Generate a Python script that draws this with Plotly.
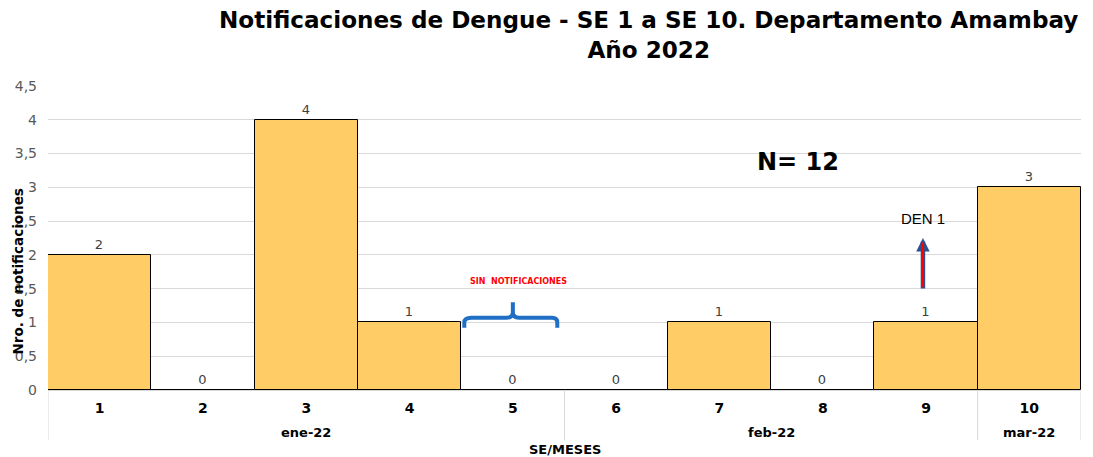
import plotly.graph_objects as go
import numpy as np

weeks = [1, 2, 3, 4, 5, 6, 7, 8, 9, 10]
values = [2, 0, 4, 1, 0, 0, 1, 0, 1, 3]
months = ["ene-22"] * 5 + ["feb-22"] * 4 + ["mar-22"]
y_ticks = [0, 0.5, 1, 1.5, 2, 2.5, 3, 3.5, 4, 4.5]

title_line1 = "Notificaciones de Dengue - SE 1 a SE 10. Departamento Amambay"
title_line2 = "Año 2022"
total_label = "N= " + str(sum(values))

FONT = "DejaVu Sans"
GRID = "#d9d9d9"

fig = go.Figure()
fig.add_trace(go.Bar(
    x=weeks, y=values, width=1.0,
    marker=dict(color="#FFCC66", line=dict(color="#000000", width=1)),
    text=[str(v) for v in values], textposition="outside",
    textfont=dict(family=FONT, size=13, color="#404040"),
    cliponaxis=False,
))

# month groups
month_names = []
for m in months:
    if m not in month_names:
        month_names.append(m)
annotations = []
shapes = []
for m in month_names:
    ws = [w for w, mm in zip(weeks, months) if mm == m]
    annotations.append(dict(x=float(np.mean(ws)), y=-0.1414, xref="x", yref="paper", yanchor="middle",
                            text="<b>" + m + "</b>", showarrow=False,
                            font=dict(family=FONT, size=13, color="#000000")))
    shapes.append(dict(type="line", xref="x", yref="paper", x0=min(ws) - 0.5, x1=min(ws) - 0.5,
                       y0=0, y1=-0.165, line=dict(color=GRID, width=1)))
shapes.append(dict(type="line", xref="x", yref="paper", x0=max(weeks) + 0.5, x1=max(weeks) + 0.5,
                   y0=0, y1=-0.165, line=dict(color=GRID, width=1)))

# brace over SE 5 (sin notificaciones)
bx = 5
brace_path = (f"M {bx-0.47},0.92 L {bx-0.47},1.0 Q {bx-0.47},1.07 {bx-0.4},1.07 "
              f"L {bx-0.06},1.07 Q {bx},1.07 {bx},1.15 L {bx},1.3 "
              f"M {bx},1.15 Q {bx},1.07 {bx+0.06},1.07 L {bx+0.38},1.07 "
              f"Q {bx+0.43},1.07 {bx+0.43},1.0 L {bx+0.43},0.92")
shapes.append(dict(type="path", xref="x", yref="y", path=brace_path,
                   line=dict(color="#1F6FC5", width=4)))

annotations += [
    dict(x=0.581, y=1.0, xref="paper", yref="paper", yanchor="middle", yshift=51.5, align="center",
         text="<b>" + title_line1 + "<br>" + title_line2 + "</b>", showarrow=False,
         font=dict(family=FONT, size=23.1, color="#000000")),
    dict(x=7.765, y=3.375, xref="x", yref="y", text="<b>" + total_label + "</b>", showarrow=False,
         font=dict(family=FONT, size=24, color="#000000")),
    dict(x=5.05, y=1.6, xref="x", yref="y", text="<b>SIN  NOTIFICACIONES</b>", showarrow=False,
         font=dict(family=FONT, size=8, color="#FF0000")),
    dict(x=8.97, y=2.54, xref="x", yref="y", text="DEN 1", showarrow=False,
         font=dict(family="Liberation Sans", size=15, color="#000000")),
    # arrow outline
    dict(x=8.97, y=2.25, ax=8.97, ay=1.48, xref="x", yref="y", axref="x", ayref="y",
         text="", showarrow=True, arrowhead=2, arrowsize=0.6, arrowwidth=4.5, arrowcolor="#2F4F8F"),
    dict(x=8.97, y=2.18, ax=8.97, ay=1.5, xref="x", yref="y", axref="x", ayref="y",
         text="", showarrow=True, arrowhead=0, arrowwidth=2.2, arrowcolor="#FF0000"),
    dict(x=-0.029, y=0.39, xref="paper", yref="paper", xanchor="center", yanchor="middle",
         text="<b>Nro. de notificaciones</b>",
         textangle=-90, showarrow=False, font=dict(family=FONT, size=13.5, color="#000000")),
    dict(x=5.5, y=-0.197, xref="x", yref="paper", yanchor="middle", text="<b>SE/MESES</b>", showarrow=False,
         font=dict(family=FONT, size=13, color="#000000")),
]

# the page body adds an 8px offset, so the figure is sized to end at the window edge
fig.update_layout(
    width=1085, height=449,
    margin=dict(l=40, r=12, t=78, b=67),
    plot_bgcolor="#ffffff", paper_bgcolor="#ffffff",
    separators=",.",
    showlegend=False,
    bargap=0,
    annotations=annotations,
    shapes=shapes,
    xaxis=dict(range=[0.5, 10.5], tickvals=weeks, ticktext=["<b>" + str(w) + "</b>" for w in weeks],
               showgrid=False, zeroline=False, showline=False, ticks="", ticklabelstandoff=8,
               automargin=False, tickfont=dict(family=FONT, size=14, color="#000000")),
    yaxis=dict(range=[0, 4.5], tickvals=y_ticks, showgrid=True, gridcolor=GRID, gridwidth=1,
               zeroline=True, zerolinecolor=GRID, zerolinewidth=1, showline=False,
               ticks="", ticklabelstandoff=10, automargin=False,
               tickfont=dict(family=FONT, size=14, color="#595959")),
)

fig.write_html("out.html")
